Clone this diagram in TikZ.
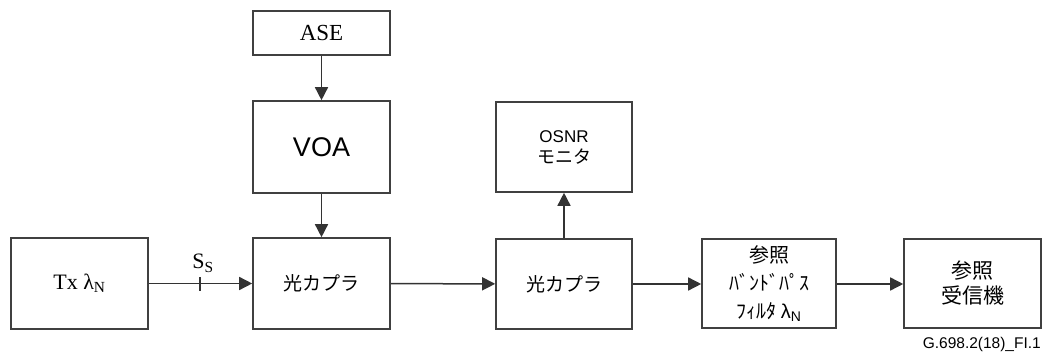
\documentclass[tikz,border=0pt]{standalone}
\usepackage{fontspec}
\setmainfont{Liberation Serif}
\setsansfont{Liberation Sans}
\newfontfamily\jp{Noto Sans CJK JP}
\usetikzlibrary{arrows.meta}
\begin{document}
\begin{tikzpicture}[x=1pt,y=-1pt,
  blk/.style={draw=black!75,line width=1.6pt,fill=white,inner sep=0pt,align=center},
  conn/.style={draw=black!80,line width=1.5pt,-{Triangle[length=13pt,width=13pt]}},
  tick/.style={draw=black!80,line width=1.5pt}]
\useasboundingbox (0,0) rectangle (1043,352);
\node[blk,minimum width=137pt,minimum height=44pt,font=\fontsize{23}{26}\selectfont] (ase) at (321.5,33) {ASE};
\node[blk,minimum width=137pt,minimum height=92pt,font=\sffamily\fontsize{27}{30}\selectfont] (voa) at (321.5,147) {VOA};
\node[blk,minimum width=137pt,minimum height=91pt,font=\fontsize{22}{25}\selectfont] (tx) at (79.5,283.5) {Tx λ\textsubscript{N}};
\node[blk,minimum width=137pt,minimum height=91pt,font=\jp\fontsize{19}{22}\selectfont] (c1) at (321.5,283.5) {光カプラ};
\node[blk,minimum width=136pt,minimum height=90pt,font=\jp\fontsize{19}{22}\selectfont] (c2) at (564,284) {光カプラ};
\node[blk,minimum width=136pt,minimum height=90pt,font=\jp\fontsize{18}{21}\selectfont] (osnr) at (564,147) {{\sffamily\fontsize{17}{21}\selectfont OSNR}\\モニタ};
\node[blk,minimum width=134pt,minimum height=89pt,font=\jp\fontsize{20}{28}\selectfont] (filt) at (769,283.5) {参照\\ﾊﾞﾝﾄﾞﾊﾟｽ\\ﾌｨﾙﾀ {\sffamily λ\textsubscript{N}}};
\node[blk,minimum width=137pt,minimum height=89pt,font=\jp\fontsize{21}{25}\selectfont] (rx) at (972.5,283.5) {参照\\受信機};
\node[anchor=base east,inner sep=0pt,font=\sffamily\fontsize{15.5}{18}\selectfont] (lbl) at (1041,348) {G.698.2(18)\_FI.1};
\draw[conn] (ase) -- (voa);
\draw[conn] (voa) -- (c1);
\draw[conn] (tx) -- (c1);
\draw[conn] (c1) -- (c2);
\draw[conn] (c2) -- (osnr);
\draw[conn] (c2.east |- 0,284) -- (filt.west |- 0,284);
\draw[conn] (filt.east |- 0,284) -- (rx.west |- 0,284);
\coordinate (ss) at (200,284);
\draw[tick] ([yshift=-7pt]ss) -- ([yshift=7pt]ss);
\node[inner sep=0pt,font=\fontsize{22}{25}\selectfont,anchor=base] (sslbl) at (203,269) {S\textsubscript{S}};
\end{tikzpicture}
\end{document}
